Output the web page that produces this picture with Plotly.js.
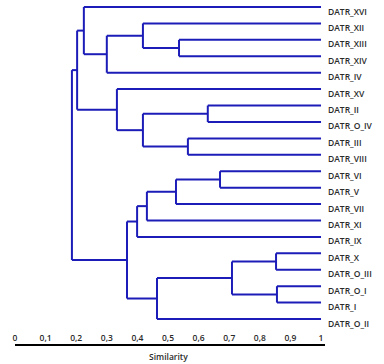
<!DOCTYPE html>
<html>
<head>
<meta charset="utf-8">
<script src="https://cdn.plot.ly/plotly-3.0.1.min.js"></script>
<style>html,body{margin:0;padding:0;background:#fff;}#chart{width:384px;height:364px;}</style>
</head>
<body>
<div id="chart"></div>
<script>
// Leaves, top to bottom
const leaves = ['DATR_XVI','DATR_XII','DATR_XIII','DATR_XIV','DATR_IV','DATR_XV','DATR_II','DATR_O_IV','DATR_III','DATR_VIII',
                'DATR_VI','DATR_V','DATR_VII','DATR_XI','DATR_IX','DATR_X','DATR_O_III','DATR_O_I','DATR_I','DATR_O_II'];
// Linkage: node ids 0..19 are leaves, 20.. are merges in this order
const mergeLeft   = [2, 1, 21, 0, 6, 8, 24, 5, 23, 10, 29, 30, 31, 15, 17, 33, 35, 32, 28];
const mergeRight  = [3, 20, 4, 22, 7, 9, 25, 26, 27, 11, 12, 13, 14, 16, 18, 34, 19, 36, 37];
const mergeSim    = [0.536, 0.418, 0.30, 0.225, 0.63, 0.565, 0.418, 0.333, 0.203, 0.67, 0.526, 0.431, 0.399, 0.853, 0.856, 0.709, 0.464, 0.366, 0.186];
const leafSim = 1.0;
const tickVals = [0,0.1,0.2,0.3,0.4,0.5,0.6,0.7,0.8,0.9,1];
const tickText = ['0','0,1','0,2','0,3','0,4','0,5','0,6','0,7','0,8','0,9','1'];

const nL = leaves.length;
const posY = {}, posX = {};
for (let i = 0; i < nL; i++) { posY[i] = i; posX[i] = leafSim; }
const xs = [], ys = [];
for (let k = 0; k < mergeLeft.length; k++) {
  const id = nL + k, a = mergeLeft[k], b = mergeRight[k], h = mergeSim[k];
  xs.push(posX[a], h, null); ys.push(posY[a], posY[a], null);
  xs.push(posX[b], h, null); ys.push(posY[b], posY[b], null);
  xs.push(h, h, null); ys.push(posY[a], posY[b], null);
  posY[id] = (posY[a] + posY[b]) / 2;
  posX[id] = h;
}

const trace = {x: xs, y: ys, type: 'scatter', mode: 'lines',
  line: {color: '#1c1cb8', width: 2}, hoverinfo: 'skip', showlegend: false, connectgaps: false};

const txtFont = {family: 'Open Sans, sans-serif', size: 8.5, color: '#2a2a2a', weight: 600};
const annotations = leaves.map((t, i) => ({
  x: leafSim, y: i, xref: 'x', yref: 'y', text: t, showarrow: false,
  xanchor: 'left', yanchor: 'middle', xshift: 5, yshift: -4, font: txtFont
}));
annotations.push({x: 0.5, y: 0, xref: 'x', yref: 'paper', text: 'Similarity', showarrow: false,
  xanchor: 'center', yanchor: 'top', yshift: -5, font: txtFont});

const layout = {
  width: 384, height: 364,
  margin: {l: 15, r: 59, t: 0, b: 20},
  paper_bgcolor: '#fff', plot_bgcolor: '#fff',
  showlegend: false,
  xaxis: {range: [0, 1.013], showgrid: false, zeroline: false, showline: true, linecolor: '#000', linewidth: 1.5,
    tickmode: 'array', tickvals: tickVals, ticktext: tickText, ticks: '', ticklabelposition: 'inside',
    ticklabeloverflow: 'allow', ticklabelstandoff: 0,
    tickfont: txtFont, fixedrange: true},
  yaxis: {range: [20.52, -0.426], showgrid: false, zeroline: false, showline: false, showticklabels: false, ticks: '', fixedrange: true},
  annotations: annotations
};
Plotly.newPlot('chart', [trace], layout, {displayModeBar: false, staticPlot: true});
</script>
</body>
</html>
